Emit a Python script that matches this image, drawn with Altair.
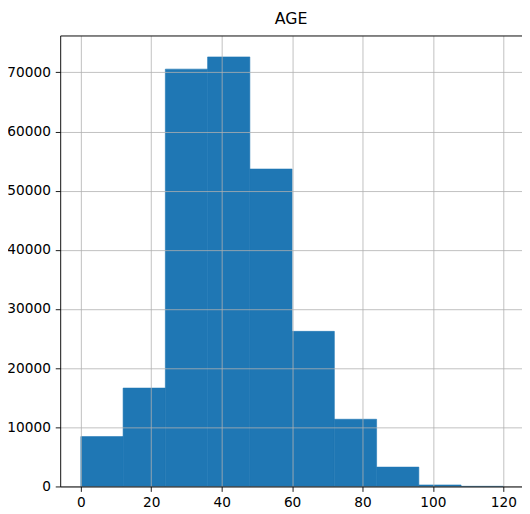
import altair as alt
import pandas as pd

bin_start = [0, 12, 24, 36, 48, 60, 72, 84, 96, 108]
bin_end = [12, 24, 36, 48, 60, 72, 84, 96, 108, 120]
counts = [8430, 16630, 70550, 72610, 53660, 26220, 11360, 3270, 250, 15]

x_ticks = [0, 20, 40, 60, 80, 100, 120]
y_ticks = [0, 10000, 20000, 30000, 40000, 50000, 60000, 70000]

df = pd.DataFrame({"start": bin_start, "end": bin_end, "count": counts,
                   "zero": [0] * len(counts)})

FONT = "DejaVu Sans"
x_scale = alt.Scale(domain=[-5.87, 125.3], nice=False, zero=False, padding=0)
y_scale = alt.Scale(domain=[0, 76240], nice=False, padding=0)

bars = alt.Chart(df).mark_bar(color="#1f77b4", stroke="#1f77b4", strokeWidth=0.6,
                              orient="vertical").encode(
    x=alt.X("start:Q", scale=x_scale,
            axis=alt.Axis(values=x_ticks, title=None, grid=True, gridColor="#b0b0b0",
                          gridWidth=0.8, domainColor="black", domainWidth=0.9,
                          tickColor="black", tickSize=5, tickWidth=0.9, format="d",
                          labelFont=FONT, labelFontSize=13.9, labelColor="black",
                          labelPadding=4, zindex=1, orient="bottom")),
    x2="end:Q",
    y=alt.Y("count:Q", scale=y_scale,
            axis=alt.Axis(values=y_ticks, title=None, grid=True, gridColor="#b0b0b0",
                          gridWidth=0.8, domainColor="black", domainWidth=0.9,
                          tickColor="black", tickSize=5, tickWidth=0.9, format="d",
                          labelFont=FONT, labelFontSize=13.9, labelColor="black",
                          labelPadding=5, zindex=1)),
    y2="zero:Q",
)

top = alt.Chart(df).mark_bar(opacity=0, orient="vertical").encode(
    x=alt.X("start:Q", scale=x_scale,
            axis=alt.Axis(orient="top", labels=False, ticks=False, grid=False,
                          minExtent=0, maxExtent=0,
                          title=None, domainColor="black", domainWidth=0.9, zindex=1)),
    x2="end:Q",
    y=alt.Y("count:Q", scale=y_scale),
    y2="zero:Q",
)

chart = alt.layer(bars, top).properties(
    width=469,
    height=458,
    autosize=alt.AutoSizeParams(type="none"),
    padding={"left": 53, "top": 24, "right": 0, "bottom": 20},
    title=alt.Title("AGE", font=FONT, fontSize=16, fontWeight="normal", color="black",
                    anchor="middle", baseline="alphabetic", offset=8, frame="group",
                    dy=12),
).configure_view(stroke=None).configure(background="white")

chart.save("out.html", embed_options={"renderer": "svg", "actions": False})
